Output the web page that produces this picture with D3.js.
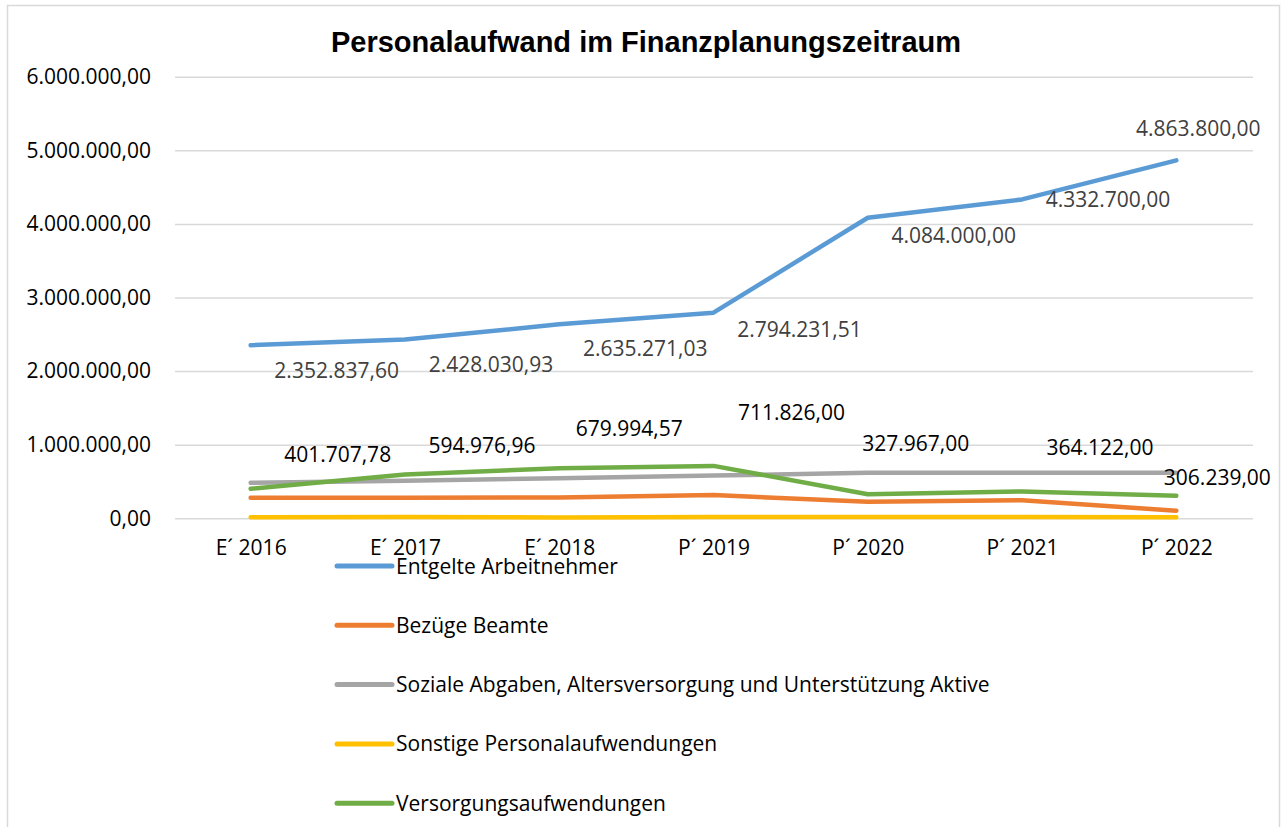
<!DOCTYPE html>
<html>
<head>
<meta charset="utf-8">
<script src="https://cdn.jsdelivr.net/npm/d3@7.9.0/dist/d3.min.js"></script>
<style>
  body { margin: 0; background: #fff; }
  svg { display: block; font-family: "Open Sans", sans-serif; }
</style>
</head>
<body>
<div id="chart"></div>
<script>
const title = 'Personalaufwand im Finanzplanungszeitraum';
const categories = ['E´ 2016', 'E´ 2017', 'E´ 2018', 'P´ 2019', 'P´ 2020', 'P´ 2021', 'P´ 2022'];
const yTicks = [0, 1000000, 2000000, 3000000, 4000000, 5000000, 6000000];

const seriesNames = [
  'Entgelte Arbeitnehmer',
  'Bezüge Beamte',
  'Soziale Abgaben, Altersversorgung und Unterstützung Aktive',
  'Sonstige Personalaufwendungen',
  'Versorgungsaufwendungen',
];
const entgelte = [2352837.60, 2428030.93, 2635271.03, 2794231.51, 4084000.00, 4332700.00, 4863800.00];
const bezuege = [278000, 280000, 284000, 315000, 226000, 245000, 103000];
const sozialeAbgaben = [482000, 510000, 545000, 580000, 618000, 619000, 620000];
const sonstige = [14000, 16000, 11000, 16000, 16000, 16000, 14000];
const versorgung = [401707.78, 594976.96, 679994.57, 711826.00, 327967.00, 364122.00, 306239.00];

const seriesValues = [entgelte, bezuege, sozialeAbgaben, sonstige, versorgung];
const colors = ['#5B9BD5', '#ED7D31', '#A5A5A5', '#FFC000', '#70AD47'];

// label placement (offset of label centre from its point), as set by hand in the original
const entgelteLabelOffset = [[86, 25], [86, 25], [86, 24], [86, 17], [86, 18], [86, 0], [22, -32]];
const versorgungLabelOffset = [[87, -34], [77, -29], [70, -40], [78, -53], [48, -51], [78, -44], [41, -18]];

const width = 1285;
const height = 827;
const fontSize = '21px';

const fmt = d3.formatLocale({ decimal: ',', thousands: '.', grouping: [3], currency: ['', '€'] }).format(',.2f');

const svg = d3.select('#chart')
  .append('svg')
  .attr('width', width)
  .attr('height', height);

// chart frame
svg.append('rect')
  .attr('x', 7.5).attr('y', 5.5)
  .attr('width', 1272).attr('height', 840)
  .attr('fill', '#fff')
  .attr('stroke', '#d9d9d9')
  .attr('stroke-width', 1.5);

svg.append('text')
  .attr('x', 646).attr('y', 52)
  .attr('text-anchor', 'middle')
  .style('font-family', '"Liberation Sans", Arial, sans-serif')
  .style('font-weight', 'bold')
  .style('font-size', '29px')
  .text(title);

const x = d3.scalePoint()
  .domain(categories)
  .range([173.5, 1253.5])
  .padding(0.5);

const y = d3.scaleLinear()
  .domain([0, 6000000])
  .range([518.3, 76.7]);

// gridlines + y labels
const yAxis = svg.append('g')
  .attr('transform', 'translate(175,0)')
  .call(d3.axisLeft(y).tickValues(yTicks).tickSize(-1078).tickPadding(24).tickFormat(fmt));
yAxis.select('.domain').remove();
yAxis.selectAll('line').attr('stroke', '#d9d9d9').attr('stroke-width', 1.5);
yAxis.selectAll('text')
  .attr('fill', '#000')
  .style('font-size', fontSize)
  .style('font-family', '"Open Sans", sans-serif');

// x labels
const xAxis = svg.append('g')
  .attr('transform', 'translate(0,526)')
  .call(d3.axisBottom(x).tickSize(0).tickPadding(14));
xAxis.select('.domain').remove();
xAxis.selectAll('text')
  .attr('fill', '#000')
  .style('font-size', fontSize)
  .style('font-family', '"Open Sans", sans-serif');

// lines
const line = d3.line()
  .x((d, i) => x(categories[i]))
  .y(d => y(d));

svg.append('g')
  .selectAll('path')
  .data(seriesValues)
  .join('path')
  .attr('d', d => line(d))
  .attr('fill', 'none')
  .attr('stroke', (d, i) => colors[i])
  .attr('stroke-width', 4.5)
  .attr('stroke-linejoin', 'round')
  .attr('stroke-linecap', 'round');

// data labels
svg.append('g')
  .selectAll('text')
  .data(entgelte)
  .join('text')
  .attr('x', (d, i) => x(categories[i]) + entgelteLabelOffset[i][0])
  .attr('y', (d, i) => y(d) + entgelteLabelOffset[i][1])
  .attr('dy', '0.36em')
  .attr('text-anchor', 'middle')
  .attr('fill', '#404040')
  .style('font-size', fontSize)
  .text(d => fmt(d));

svg.append('g')
  .selectAll('text')
  .data(versorgung)
  .join('text')
  .attr('x', (d, i) => x(categories[i]) + versorgungLabelOffset[i][0])
  .attr('y', (d, i) => y(d) + versorgungLabelOffset[i][1])
  .attr('dy', '0.36em')
  .attr('text-anchor', 'middle')
  .attr('fill', '#000')
  .style('font-size', fontSize)
  .text(d => fmt(d));

// legend
const legend = svg.append('g')
  .selectAll('g')
  .data(seriesNames)
  .join('g')
  .attr('transform', (d, i) => `translate(337, ${566 + i * 59.3})`);

legend.append('line')
  .attr('x1', 0).attr('x2', 55)
  .attr('stroke', (d, i) => colors[i])
  .attr('stroke-width', 5)
  .attr('stroke-linecap', 'round');

legend.append('text')
  .attr('x', 59)
  .attr('dy', '0.36em')
  .attr('fill', '#000')
  .style('font-size', fontSize)
  .text(d => d);
</script>
</body>
</html>
